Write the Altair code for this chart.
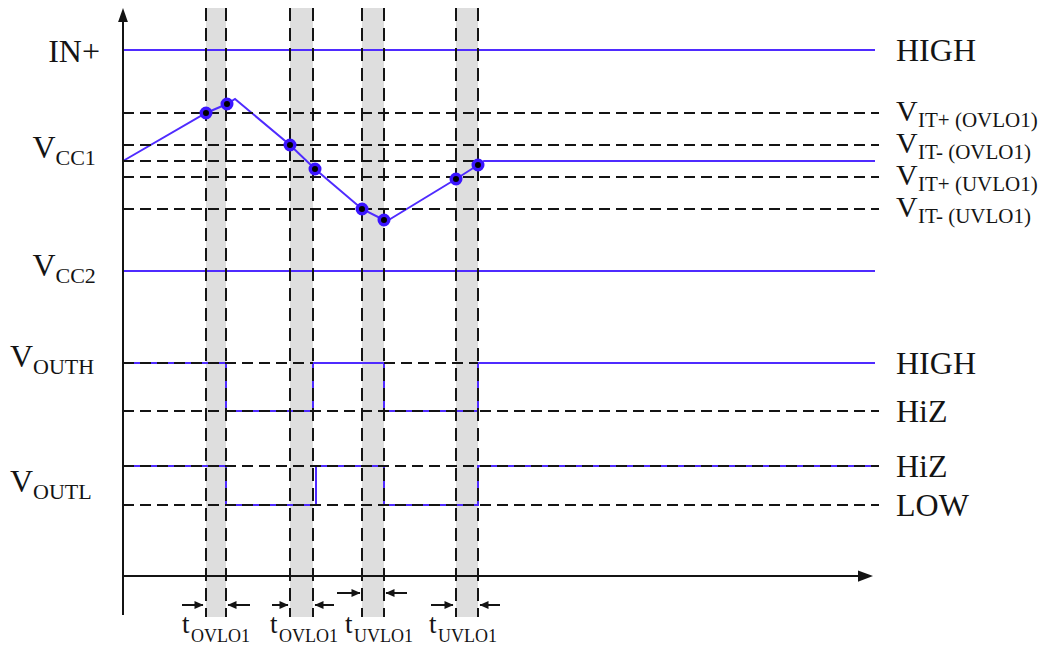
import altair as alt
import pandas as pd

PURPLE = "#4f2bff"
DOT_RING = "#3a14ff"
INK = "#141414"
GREY = "#dedede"
FONT = "Liberation Serif"

# ---------------- data (time and level in arbitrary diagram units) ----------------
edge_times = [8.3, 10.3, 16.7, 19.0, 23.9, 26.1, 33.3, 35.5]
band_start = [8.3, 16.7, 23.9, 33.3]
band_end = [10.3, 19.0, 26.1, 35.5]
marker_top = 56.8
marker_bottom = -4.1

in_level = 52.6
vcc2_level = 30.5
trace_end = 75.2
dash_end = 75.6

thr_levels = [46.3, 43.1, 39.9, 36.7]
thr_subs = ["IT+ (OVLO1)", "IT- (OVLO1)", "IT+ (UVLO1)", "IT- (UVLO1)"]
vcc1_level = 41.5
vcc1_dash_end = 35.5

out_levels = [21.3, 16.5, 11.0, 7.1]
out_words = ["HIGH", "HiZ", "HiZ", "LOW"]
vouth_high_dash_start = [0.0, 26.1]
vouth_high_dash_end = [19.0, 35.5]

vcc1_t = [0.0, 8.3, 10.4, 11.2, 16.7, 19.2, 23.9, 26.1, 26.4, 33.3, 35.5, 36.1, 75.2]
vcc1_v = [41.5, 46.3, 47.2, 47.7, 43.1, 40.7, 36.7, 35.6, 35.5, 39.7, 41.1, 41.5, 41.5]
dot_t = [8.3, 10.4, 16.7, 19.2, 23.9, 26.1, 33.3, 35.5]
dot_v = [46.3, 47.2, 43.1, 40.7, 36.7, 35.6, 39.7, 41.1]

vouth_t = [0.0, 10.3, 10.3, 19.0, 19.0, 26.1, 26.1, 35.5, 35.5, 75.2]
vouth_v = [21.3, 21.3, 16.5, 16.5, 21.3, 21.3, 16.5, 16.5, 21.3, 21.3]
voutl_t = [0.0, 10.3, 10.3, 19.3, 19.3, 26.1, 26.1, 35.5, 35.5, 75.2]
voutl_v = [11.0, 11.0, 7.1, 7.1, 11.0, 11.0, 7.1, 7.1, 11.0, 11.0]

axis_y_bottom = -3.9
axis_y_top = 55.5
axis_y_head = 56.1
axis_x_end = 74.0
axis_x_head = 74.25

arrow_level = [-2.9, -2.9, -1.7, -2.9]
right_tail = [5.9, 14.9, 21.4, 30.8]
right_tip = [8.0, 16.5, 23.7, 33.0]
left_tip = [10.5, 19.2, 26.3, 35.7]
left_tail = [12.7, 21.1, 28.4, 37.7]

left_word = ["IN+"]
left_word_t = [-2.3]
left_word_level = [51.4]
left_v_junction = [-6.75, -6.75, -9.0, -9.0]
left_v_level = [41.8, 30.0, 20.9, 8.4]
left_v_subs = ["CC1", "CC2", "OUTH", "OUTL"]

right_label_t = 77.3
bottom_label_t = [5.9, 14.7, 22.2, 30.6]
bottom_label_level = -5.7
bottom_label_subs = ["OVLO1", "OVLO1", "UVLO1", "UVLO1"]

# ---------------- scales ----------------
xs = alt.Scale(domain=[-11.5, 92.4], nice=False, zero=False)
ys = alt.Scale(domain=[-7.0, 56.8], nice=False, zero=False)


def X(f):
    return alt.X(f, type="quantitative", scale=xs, axis=None)


def Y(f):
    return alt.Y(f, type="quantitative", scale=ys, axis=None)


# ---------------- tables ----------------
bands_df = pd.DataFrame({"t": band_start, "t2": band_end,
                         "v": [marker_top] * 4, "v2": [marker_bottom] * 4})
vdash_df = pd.DataFrame({"t": edge_times, "v": [marker_top] * len(edge_times),
                         "v2": [marker_bottom] * len(edge_times)})

h_rows = []
for lv in thr_levels:
    h_rows.append((0.0, dash_end, lv))
h_rows.append((0.0, vcc1_dash_end, vcc1_level))
for a, b in zip(vouth_high_dash_start, vouth_high_dash_end):
    h_rows.append((a, b, out_levels[0]))
for lv in out_levels[1:]:
    h_rows.append((0.0, dash_end, lv))
hdash_df = pd.DataFrame(h_rows, columns=["t", "t2", "v"])

flat_df = pd.DataFrame({"t": [0.0, 0.0], "t2": [trace_end, trace_end],
                        "v": [in_level, vcc2_level]})

wave_rows = []
for name, ts, vs in [("vcc1", vcc1_t, vcc1_v), ("vouth", vouth_t, vouth_v),
                     ("voutl", voutl_t, voutl_v)]:
    for i, (a, b) in enumerate(zip(ts, vs)):
        wave_rows.append((name, i, a, b))
wave_df = pd.DataFrame(wave_rows, columns=["sig", "i", "t", "v"])

dots_df = pd.DataFrame({"t": dot_t, "v": dot_v})

yaxis_df = pd.DataFrame({"t": [0.0], "v": [axis_y_bottom], "v2": [axis_y_top]})
xaxis_df = pd.DataFrame({"t": [0.0], "t2": [axis_x_end], "v": [0.0]})
yhead_df = pd.DataFrame({"t": [0.0], "v": [axis_y_head]})
xhead_df = pd.DataFrame({"t": [axis_x_head], "v": [0.0]})

rshaft_df = pd.DataFrame({"t": right_tail, "t2": right_tip, "v": arrow_level})
lshaft_df = pd.DataFrame({"t": left_tail, "t2": left_tip, "v": arrow_level})
rhead_df = pd.DataFrame({"t": right_tip, "v": arrow_level})
lhead_df = pd.DataFrame({"t": left_tip, "v": arrow_level})

rword_df = pd.DataFrame({"t": [right_label_t] * 5,
                         "v": [in_level] + out_levels,
                         "label": ["HIGH"] + out_words})
rv_df = pd.DataFrame({"t": [right_label_t] * 4, "v": thr_levels,
                      "main": ["V"] * 4, "sub": thr_subs})
lword_df = pd.DataFrame({"t": left_word_t, "v": left_word_level, "label": left_word})
lv_df = pd.DataFrame({"t": left_v_junction, "v": left_v_level,
                      "main": ["V"] * 4, "sub": left_v_subs})
bt_df = pd.DataFrame({"t": bottom_label_t, "v": [bottom_label_level] * 4,
                      "main": ["t"] * 4, "sub": bottom_label_subs})

# ---------------- layers ----------------
bands = alt.Chart(bands_df).mark_rect(color=GREY).encode(
    x=X("t"), x2="t2", y=Y("v"), y2="v2")

flat = alt.Chart(flat_df).mark_rule(color=PURPLE, strokeWidth=2).encode(
    x=X("t"), x2="t2", y=Y("v"))

waves = alt.Chart(wave_df).mark_line(color=PURPLE, strokeWidth=2).encode(
    x=X("t"), y=Y("v"), detail="sig:N", order="i:Q")

hdash = alt.Chart(hdash_df).mark_rule(color=INK, strokeWidth=2, strokeDash=[11, 6]).encode(
    x=X("t"), x2="t2", y=Y("v"))

vdash = alt.Chart(vdash_df).mark_rule(color=INK, strokeWidth=2, strokeDash=[13, 7]).encode(
    x=X("t"), y=Y("v"), y2="v2")

yaxis = alt.Chart(yaxis_df).mark_rule(color=INK, strokeWidth=2).encode(
    x=X("t"), y=Y("v"), y2="v2")
xaxis = alt.Chart(xaxis_df).mark_rule(color=INK, strokeWidth=2).encode(
    x=X("t"), x2="t2", y=Y("v"))
yhead = alt.Chart(yhead_df).mark_point(
    shape="M-0.7,1L0,-1L0.7,1Z", size=196, filled=True, color=INK, opacity=1).encode(
    x=X("t"), y=Y("v"))
xhead = alt.Chart(xhead_df).mark_point(
    shape="M-1,-0.75L1,0L-1,0.75Z", size=225, filled=True, color=INK, opacity=1).encode(
    x=X("t"), y=Y("v"))

dots = alt.Chart(dots_df).mark_point(
    shape="circle", size=90, fill="black", fillOpacity=1, stroke=DOT_RING,
    strokeWidth=3.5, opacity=1).encode(x=X("t"), y=Y("v"))

rshaft = alt.Chart(rshaft_df).mark_rule(color=INK, strokeWidth=2).encode(
    x=X("t"), x2="t2", y=Y("v"))
lshaft = alt.Chart(lshaft_df).mark_rule(color=INK, strokeWidth=2).encode(
    x=X("t"), x2="t2", y=Y("v"))
rhead = alt.Chart(rhead_df).mark_point(
    shape="M-1,-0.9L1,0L-1,0.9Z", size=81, filled=True, color=INK, opacity=1,
    xOffset=-4).encode(x=X("t"), y=Y("v"))
lhead = alt.Chart(lhead_df).mark_point(
    shape="M1,-0.9L-1,0L1,0.9Z", size=81, filled=True, color=INK, opacity=1,
    xOffset=4).encode(x=X("t"), y=Y("v"))

txt = dict(font=FONT, color=INK, baseline="alphabetic")

rword = alt.Chart(rword_df).mark_text(align="left", fontSize=32, dy=11, **txt).encode(
    x=X("t"), y=Y("v"), text="label:N")
rv_main = alt.Chart(rv_df).mark_text(align="left", fontSize=30, dy=8, **txt).encode(
    x=X("t"), y=Y("v"), text="main:N")
rv_sub = alt.Chart(rv_df).mark_text(align="left", fontSize=21, dx=22, dy=14, **txt).encode(
    x=X("t"), y=Y("v"), text="sub:N")

lword = alt.Chart(lword_df).mark_text(align="right", fontSize=32, **txt).encode(
    x=X("t"), y=Y("v"), text="label:N")
lv_main = alt.Chart(lv_df).mark_text(align="right", fontSize=32, **txt).encode(
    x=X("t"), y=Y("v"), text="main:N")
lv_sub = alt.Chart(lv_df).mark_text(align="left", fontSize=22, dy=7, **txt).encode(
    x=X("t"), y=Y("v"), text="sub:N")

bt_main = alt.Chart(bt_df).mark_text(align="left", fontSize=27, **txt).encode(
    x=X("t"), y=Y("v"), text="main:N")
bt_sub = alt.Chart(bt_df).mark_text(align="left", fontSize=18, dx=9, dy=9, **txt).encode(
    x=X("t"), y=Y("v"), text="sub:N")

chart = alt.layer(
    bands, flat, waves, hdash, vdash, yaxis, xaxis, yhead, xhead, dots,
    rshaft, lshaft, rhead, lhead,
    rword, rv_main, rv_sub, lword, lv_main, lv_sub, bt_main, bt_sub,
).properties(
    width=1039, height=638, padding=0,
    autosize=alt.AutoSizeParams(type="none"),
    background="white",
).configure_view(stroke=None)

chart.save("out.html", embed_options={"renderer": "svg", "actions": False})
